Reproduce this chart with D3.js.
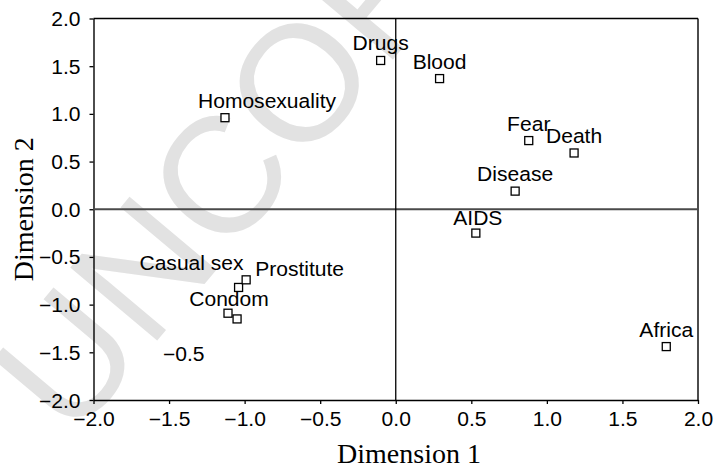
<!DOCTYPE html>
<html>
<head>
<meta charset="utf-8">
<script src="https://cdn.jsdelivr.net/npm/d3@7"></script>
<style>
  body { margin: 0; background: #fff; }
  svg { display: block; }
</style>
</head>
<body>
<div id="chart"></div>
<script>
// chart data
const terms = ["Homosexuality", "Drugs", "Blood", "Fear", "Death", "Disease", "AIDS", "Africa", "Casual sex", "Prostitute", "Condom", ""];
const dim1 = [-1.13, -0.10, 0.29, 0.88, 1.18, 0.79, 0.53, 1.79, -1.04, -0.99, -1.11, -1.05];
const dim2 = [0.96, 1.56, 1.37, 0.72, 0.59, 0.19, -0.25, -1.44, -0.82, -0.74, -1.09, -1.15];
const tickValues = [-2.0, -1.5, -1.0, -0.5, 0.0, 0.5, 1.0, 1.5, 2.0];
// stray label printed inside the plot
const strayText = ["\u22120.5"];
const strayX = [-1.54];
const strayY = [-1.59];

const width = 716;
const height = 469;
const margin = { left: 93.5, right: 18, top: 18.5, bottom: 69 };
const sans = "Liberation Sans, Arial, sans-serif";
const serif = "Liberation Serif, Times New Roman, serif";
const stretchX = 1.08; // the sans text is a bit wide in the original

// label placement (pixel nudges, anchor)
const labelPos = {
  "Homosexuality": { anchor: "start", dx: -27, dy: -10 },
  "Casual sex": { anchor: "end", dx: 5, dy: -17 },
  "Prostitute": { anchor: "start", dx: 9, dy: -4 },
  "Condom": { anchor: "middle", dx: 1, dy: -7 },
  "AIDS": { anchor: "middle", dx: 2, dy: -8 }
};

const points = terms.map((t, i) => ({ term: t, x: dim1[i], y: dim2[i] }));

const svg = d3.select("#chart").append("svg").attr("width", width).attr("height", height);

// watermark
svg.append("text")
  .attr("transform", "translate(72,442) rotate(-50)")
  .attr("font-family", sans)
  .attr("font-size", 165)
  .attr("fill", "#e2e2e2")
  .text("UNCORRECTED");

const xscale = d3.scaleLinear().domain([-2, 2]).range([margin.left, width - margin.right]);
const yscale = d3.scaleLinear().domain([-2, 2]).range([height - margin.bottom, margin.top]);

const fmt = d3.format(".1f");

// move text to a transform so it can be stretched sideways
const stretch = (sel, fx, fy) => sel
  .attr("transform", (d, i) => `translate(${fx(d, i)},${fy(d, i)}) scale(${stretchX},1)`)
  .attr("x", 0).attr("y", 0);

// axes
const xAxis = svg.append("g")
  .attr("transform", `translate(0, ${yscale(-2)})`)
  .call(d3.axisBottom(xscale).tickValues(tickValues).tickFormat(fmt).tickSize(4).tickSizeOuter(0));
const yAxis = svg.append("g")
  .attr("transform", `translate(${xscale(-2)}, 0)`)
  .call(d3.axisLeft(yscale).tickValues(tickValues).tickFormat(fmt).tickSize(4).tickSizeOuter(0));

[xAxis, yAxis].forEach(a => {
  a.select(".domain").attr("stroke", "#000").attr("stroke-width", 1.4);
  a.selectAll(".tick line").attr("stroke", "#000").attr("stroke-width", 1.3);
  a.selectAll(".tick text")
    .attr("font-family", sans)
    .attr("font-size", 19.5)
    .attr("fill", "#000");
});
stretch(xAxis.selectAll(".tick text").attr("dy", 0), () => 0, () => 26);
stretch(yAxis.selectAll(".tick text").attr("dy", "0.36em"), () => -13, () => 0);

// frame top and right
svg.append("line")
  .attr("x1", xscale(-2)).attr("x2", xscale(2)).attr("y1", yscale(2)).attr("y2", yscale(2))
  .attr("stroke", "#000").attr("stroke-width", 1.4);
svg.append("line")
  .attr("x1", xscale(2)).attr("x2", xscale(2)).attr("y1", yscale(2)).attr("y2", yscale(-2))
  .attr("stroke", "#000").attr("stroke-width", 1.4);

// zero lines
svg.append("line")
  .attr("x1", xscale(-2)).attr("x2", xscale(2)).attr("y1", yscale(0)).attr("y2", yscale(0))
  .attr("stroke", "#4a4a4a").attr("stroke-width", 2);
svg.append("line")
  .attr("x1", xscale(0)).attr("x2", xscale(0)).attr("y1", yscale(2)).attr("y2", yscale(-2))
  .attr("stroke", "#000").attr("stroke-width", 1.3);

// points
const sq = 8;
svg.selectAll("rect.pt").data(points).enter()
  .append("rect")
  .attr("class", "pt")
  .attr("x", d => xscale(d.x) - sq / 2)
  .attr("y", d => yscale(d.y) - sq / 2)
  .attr("width", sq)
  .attr("height", sq)
  .attr("fill", "#fff")
  .attr("stroke", "#000")
  .attr("stroke-width", 1.3);

// labels
const labels = svg.selectAll("text.lbl").data(points.filter(d => d.term !== "")).enter()
  .append("text")
  .attr("class", "lbl")
  .attr("text-anchor", d => labelPos[d.term] ? labelPos[d.term].anchor : "middle")
  .attr("font-family", sans)
  .attr("font-size", 19.5)
  .attr("fill", "#000")
  .text(d => d.term);
stretch(labels,
  d => xscale(d.x) + (labelPos[d.term] ? labelPos[d.term].dx : 0),
  d => yscale(d.y) + (labelPos[d.term] ? labelPos[d.term].dy : -10));

// stray text
const stray = svg.selectAll("text.stray").data(strayText).enter()
  .append("text")
  .attr("class", "stray")
  .attr("font-family", sans)
  .attr("font-size", 19.5)
  .text(d => d);
stretch(stray, (d, i) => xscale(strayX[i]), (d, i) => yscale(strayY[i]));

// axis titles
svg.append("text")
  .attr("x", 409).attr("y", 463)
  .attr("text-anchor", "middle")
  .attr("font-family", serif)
  .attr("font-size", 28)
  .text("Dimension 1");
svg.append("text")
  .attr("transform", `translate(33, ${yscale(0)}) rotate(-90)`)
  .attr("text-anchor", "middle")
  .attr("font-family", serif)
  .attr("font-size", 28)
  .text("Dimension 2");
</script>
</body>
</html>
